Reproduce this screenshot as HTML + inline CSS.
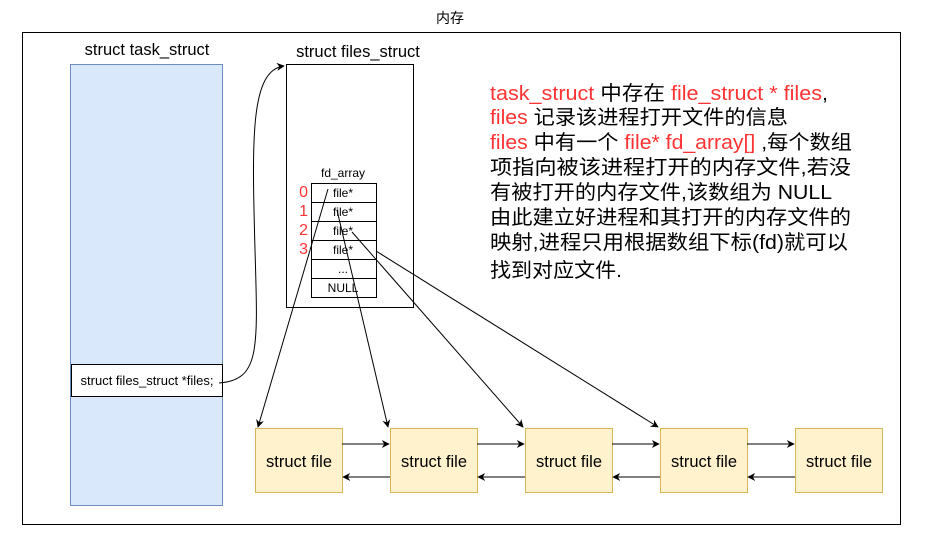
<!DOCTYPE html>
<html><head><meta charset="utf-8"><style>
body{margin:0;background:#fff}
svg text{font-family:"Liberation Sans","Noto Sans CJK SC",sans-serif}
</style></head><body>
<svg width="945" height="543" viewBox="0 0 945 543" xmlns="http://www.w3.org/2000/svg">
<defs><marker id="a" viewBox="0 0 10 10" refX="9" refY="5" markerWidth="8" markerHeight="8" orient="auto"><path d="M0,0 L10,5 L0,10 L3,5z" fill="#000"/></marker></defs>
<text x="450" y="23" font-size="14" text-anchor="middle">内存</text>
<rect x="22.5" y="32.5" width="878" height="492" fill="#fff" stroke="#000"/>
<text x="147" y="55" font-size="16.5" text-anchor="middle">struct task_struct</text>
<rect x="70.5" y="64.5" width="152" height="441" fill="#dae8fc" stroke="#6c8ebf"/>
<rect x="71.5" y="364.5" width="151" height="32" fill="#fff" stroke="#000"/>
<text x="147" y="385" font-size="13" text-anchor="middle">struct files_struct *files;</text>
<text x="358" y="57" font-size="16.5" text-anchor="middle">struct files_struct</text>
<rect x="286.5" y="64.5" width="127" height="243" fill="#fff" stroke="#000"/>
<text x="343" y="177" font-size="12" text-anchor="middle">fd_array</text>
<g fill="#fff" stroke="#000">
<rect x="311.5" y="183.5" width="65" height="19"/><rect x="311.5" y="202.5" width="65" height="19"/>
<rect x="311.5" y="221.5" width="65" height="19"/><rect x="311.5" y="240.5" width="65" height="19"/>
<rect x="311.5" y="259.5" width="65" height="19"/><rect x="311.5" y="278.5" width="65" height="19"/>
</g>
<g font-size="12" text-anchor="middle">
<text x="343" y="197">file*</text><text x="343" y="216">file*</text><text x="343" y="235">file*</text><text x="343" y="254">file*</text><text x="343" y="273">...</text><text x="343" y="292">NULL</text>
</g>
<g font-size="16" fill="#ff3333" text-anchor="end">
<text x="308" y="197">0</text><text x="308" y="216">1</text><text x="308" y="235">2</text><text x="308" y="254">3</text>
</g>
<g fill="#fff2cc" stroke="#d6b656">
<rect x="255.5" y="428.5" width="87" height="64"/><rect x="390.5" y="428.5" width="87" height="64"/>
<rect x="525.5" y="428.5" width="87" height="64"/><rect x="660.5" y="428.5" width="87" height="64"/>
<rect x="795.5" y="428.5" width="87" height="64"/>
</g>
<g font-size="16.5" text-anchor="middle">
<text x="299" y="467">struct file</text><text x="434" y="467">struct file</text><text x="569" y="467">struct file</text><text x="704" y="467">struct file</text><text x="839" y="467">struct file</text>
</g>
<g stroke="#000" fill="none" marker-end="url(#a)">
<path d="M342,444 H389"/><path d="M477,444 H524"/><path d="M612,444 H659"/><path d="M747,444 H794"/>
<path d="M390,477 H343"/><path d="M525,477 H478"/><path d="M660,477 H613"/><path d="M795,477 H748"/>
<path d="M328,189 L258,427"/><path d="M337,210 L388,427"/><path d="M352,232 L523,427"/><path d="M376,251 L658,427"/>
<path d="M219,383 C260,380 258,350 255,250 C252,140 250,70 284,66"/>
</g>
<g font-size="20" lengthAdjust="spacingAndGlyphs">
<text x="490" y="100" textLength="338" lengthAdjust="spacingAndGlyphs"><tspan fill="#ff3333">task_struct</tspan> 中存在 <tspan fill="#ff3333">file_struct * files</tspan>,</text>
<text x="490" y="124" textLength="298" lengthAdjust="spacingAndGlyphs"><tspan fill="#ff3333">files</tspan> 记录该进程打开文件的信息</text>
<text x="490" y="149" textLength="362" lengthAdjust="spacingAndGlyphs"><tspan fill="#ff3333">files</tspan> 中有一个 <tspan fill="#ff3333">file* fd_array[]</tspan> ,每个数组</text>
<text x="490" y="174" textLength="361" lengthAdjust="spacingAndGlyphs">项指向被该进程打开的内存文件,若没</text>
<text x="490" y="199" textLength="342" lengthAdjust="spacingAndGlyphs">有被打开的内存文件,该数组为 NULL</text>
<text x="490" y="224" textLength="361" lengthAdjust="spacingAndGlyphs">由此建立好进程和其打开的内存文件的</text>
<text x="490" y="249" textLength="358" lengthAdjust="spacingAndGlyphs">映射,进程只用根据数组下标(fd)就可以</text>
<text x="490" y="277" textLength="132" lengthAdjust="spacingAndGlyphs">找到对应文件.</text>
</g>
</svg>
</body></html>
